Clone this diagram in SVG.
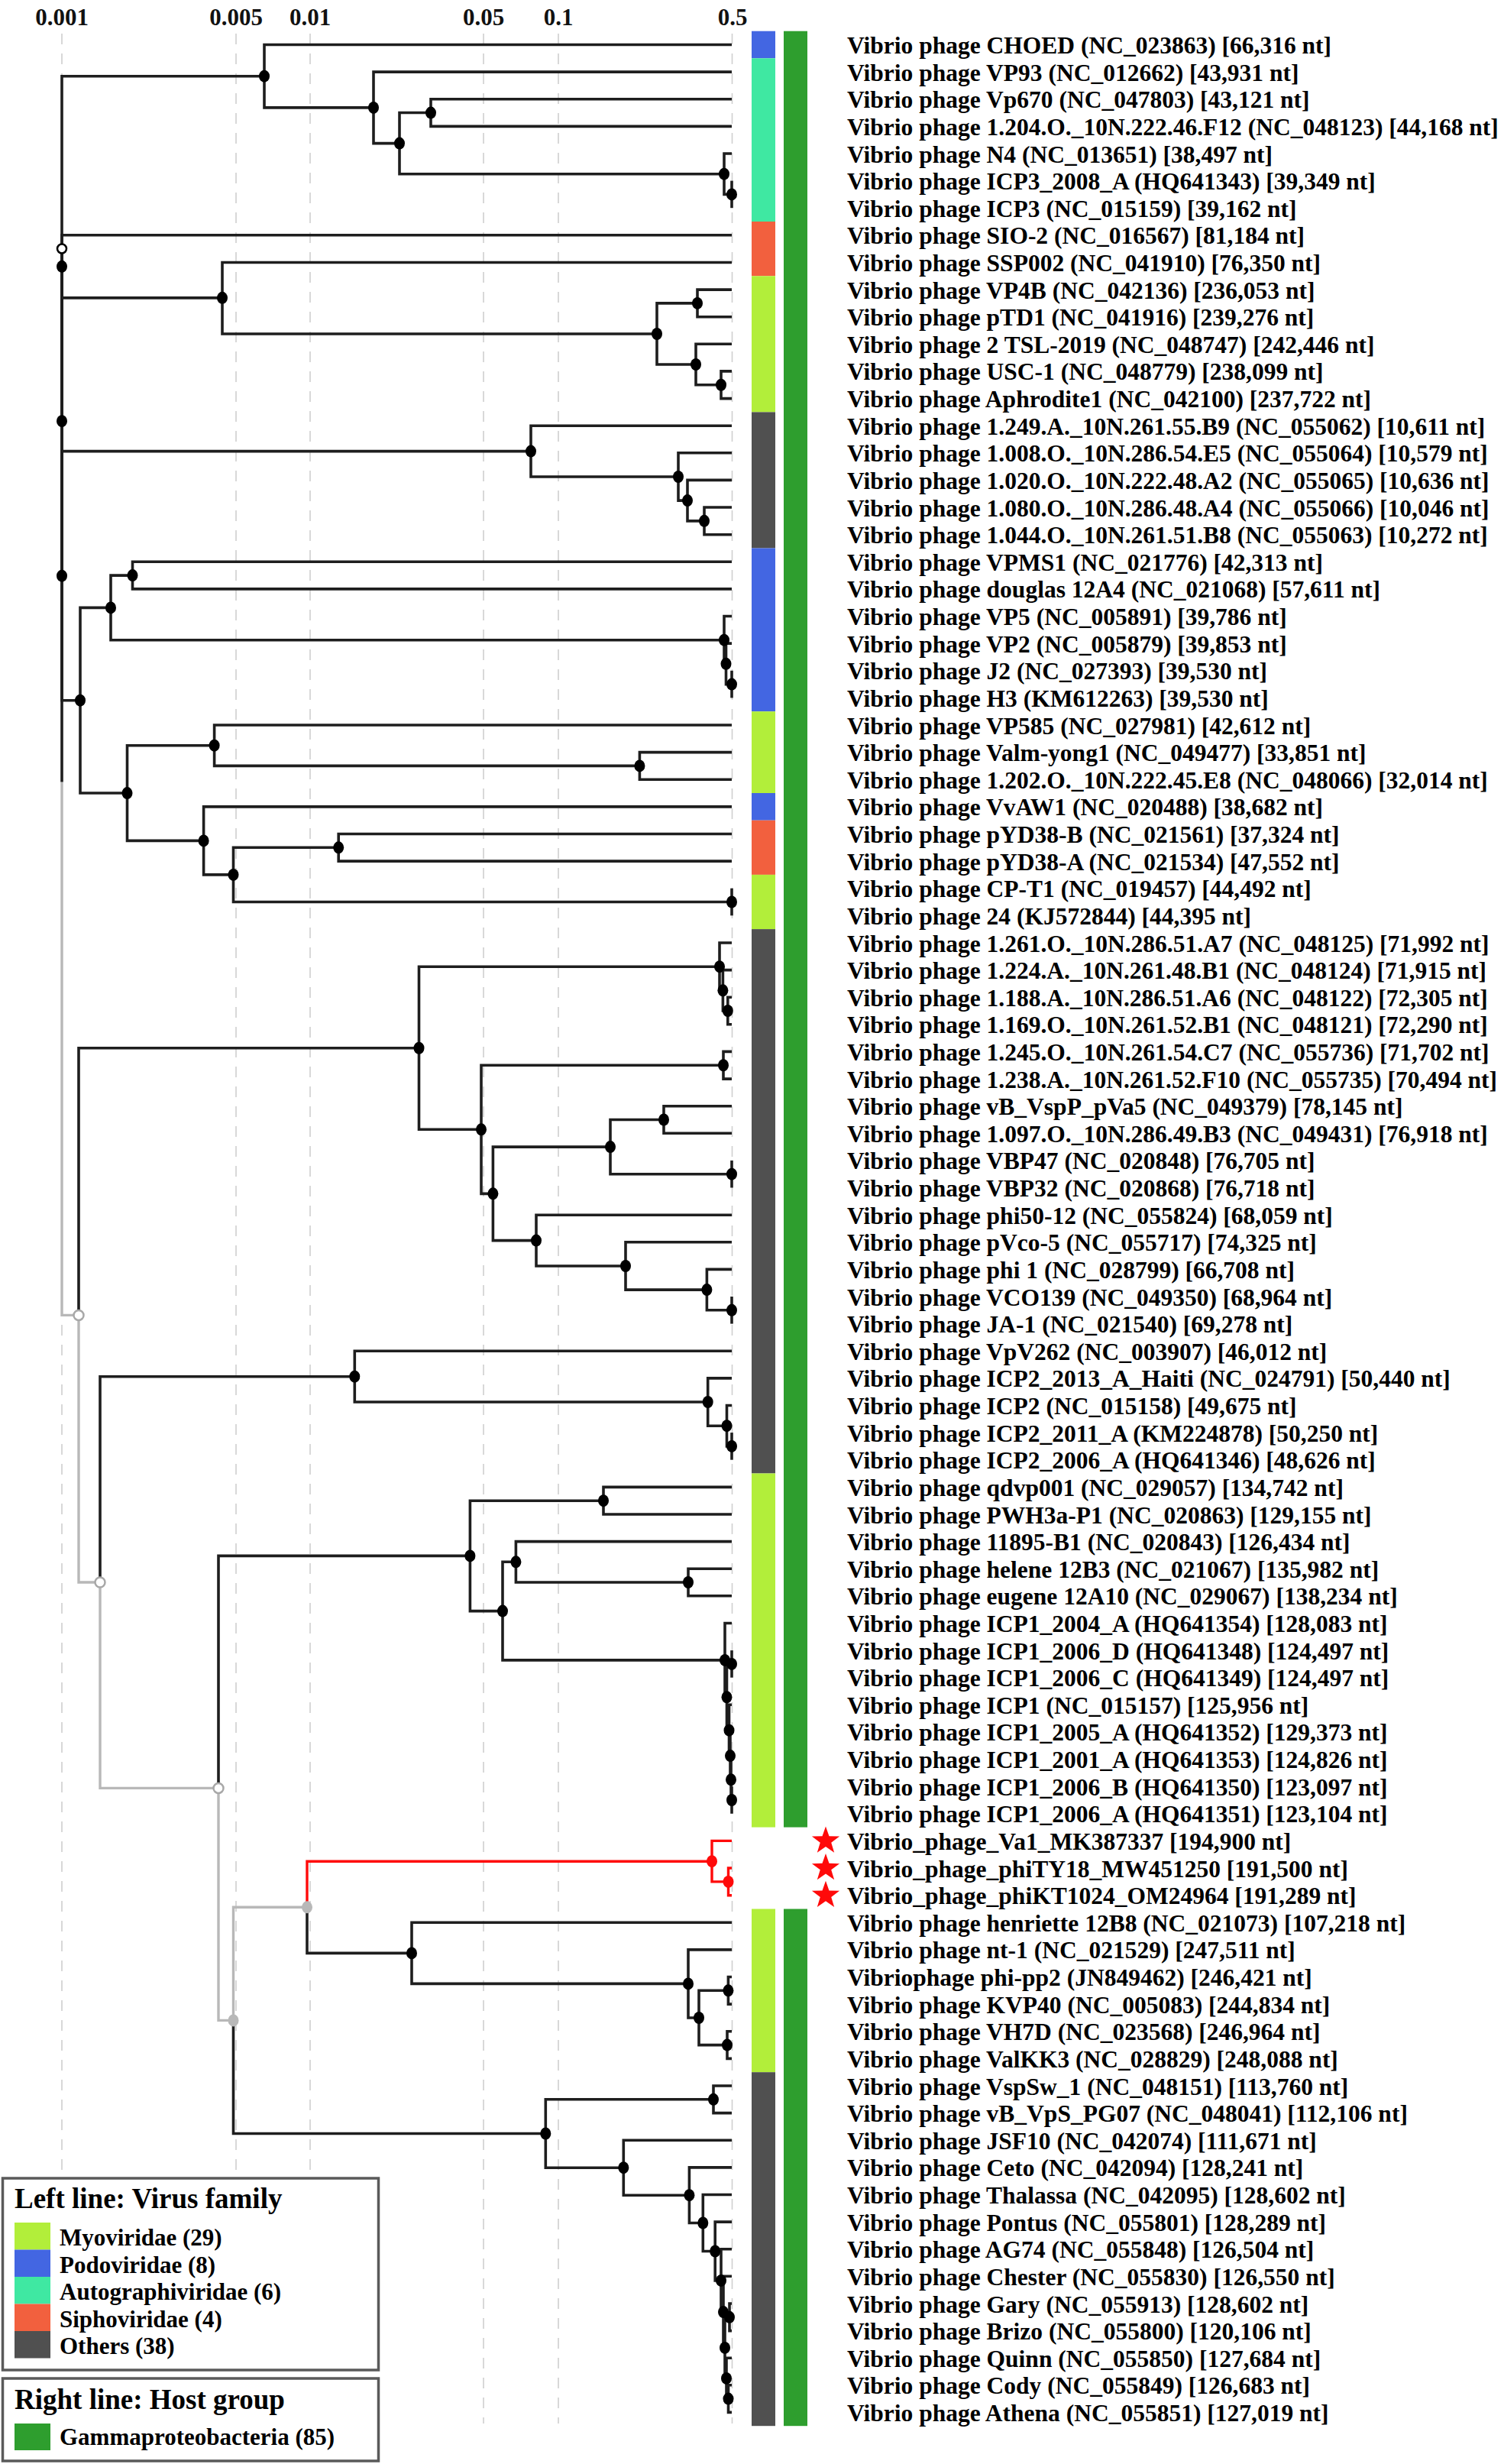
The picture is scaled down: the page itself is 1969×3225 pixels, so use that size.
<svg xmlns="http://www.w3.org/2000/svg" xmlns:xlink="http://www.w3.org/1999/xlink" width="1969" height="3225" viewBox="0 0 1969 3225">
<style>
.grid{stroke:#cfcfcf;stroke-width:1.6;stroke-dasharray:14 12;fill:none}
.ax{font-family:"Liberation Serif","Times New Roman",serif;font-weight:bold;font-size:31px;fill:#111;text-anchor:middle}
.br{fill:none;stroke:#1e1e1e;stroke-width:3.6;stroke-linejoin:miter}
.gr{fill:none;stroke:#b8b8b8;stroke-width:3.4}
.rd{fill:none;stroke:#ff0a0a;stroke-width:3.4}
.dot{fill:#000}
.gdot{fill:#b8b8b8}
.rdot{fill:#ff0a0a}
.odot{fill:#fff;stroke:#000;stroke-width:2.5}
.ogdot{fill:#fff;stroke:#a8a8a8;stroke-width:2.5}
.lbl{font-family:"Liberation Serif","Times New Roman",serif;font-weight:bold;font-size:31.5px;fill:#000}
.lg{font-family:"Liberation Serif","Times New Roman",serif;font-weight:bold;font-size:31px;fill:#000}
.lgt{font-family:"Liberation Serif","Times New Roman",serif;font-weight:bold;font-size:37px;fill:#000}
.myo{fill:#b2ee3a}.pod{fill:#4366e2}.aut{fill:#3fe8a2}.sip{fill:#f2603e}.oth{fill:#505050}.host{fill:#2e9e2e}
</style>
<defs>
<path id="star" d="M0,-19 L4.47,-6.15 L18.07,-5.87 L7.23,2.35 L11.17,15.37 L0,7.6 L-11.17,15.37 L-7.23,2.35 L-18.07,-5.87 L-4.47,-6.15 Z" fill="#ff0a0a"/>
</defs>
<rect width="1969" height="3225" fill="#fff"/>
<g id="axis">
<path class="grid" d="M81,44 V3172 M309,44 V3172 M406,44 V3172 M633,44 V3172 M731,44 V3172 M958.5,44 V3172"/>
<text class="ax" x="81" y="33">0.001</text>
<text class="ax" x="309" y="33">0.005</text>
<text class="ax" x="406" y="33">0.01</text>
<text class="ax" x="633" y="33">0.05</text>
<text class="ax" x="731" y="33">0.1</text>
<text class="ax" x="959" y="33">0.5</text>
</g>
<g id="connectors">
<path class="gr" d="M81,1023.45 V1721.4 H103"/>
<path class="gr" d="M103,1721.4 V2071.05 H131"/>
<path class="gr" d="M131,2071.05 V2340.4 H286"/>
<path class="gr" d="M286,2340.4 V2644.4 H305.5"/>
<path class="gr" d="M305.5,2644.4 V2496.3 H402"/>
<path class="br" d="M81,1023.45 V325.5"/>
<path class="br" d="M346,99.7 H81 V551.2"/>
<path class="br" d="M81,348.8 V753.65"/>
<path class="br" d="M958,307.8 H81 V389.85 H291"/>
<path class="br" d="M695,590.6 H81 V916.7 H105"/>
<path class="br" d="M958,58.5 H346 V140.9 H489"/>
<path class="br" d="M958,94.1 H489 V187.6 H523"/>
<path class="br" d="M564,147.55 H523 V227.7 H948"/>
<path class="br" d="M958,129.7 H564 V165.4 H958"/>
<path class="br" d="M958,201 H948 V254.4 H958"/>
<path class="br" d="M958,236.6 V272.2"/>
<path class="br" d="M958,343.5 H291 V437 H860"/>
<path class="br" d="M913,396.9 H860 V477 H911"/>
<path class="br" d="M958,379.1 H913 V414.7 H958"/>
<path class="br" d="M958,450.3 H911 V503.75 H944"/>
<path class="br" d="M958,485.9 H944 V521.6 H958"/>
<path class="br" d="M958,557.2 H695 V624 H888"/>
<path class="br" d="M958,592.8 H888 V655.1 H900"/>
<path class="br" d="M958,628.4 H900 V681.85 H922"/>
<path class="br" d="M958,664 H922 V699.7 H958"/>
<path class="br" d="M145,795.4 H105 V1038.05 H166.5"/>
<path class="br" d="M173.5,753.1 H145 V837.7 H948"/>
<path class="br" d="M958,735.3 H173.5 V770.9 H958"/>
<path class="br" d="M958,806.5 H948 V868.85 H950.5"/>
<path class="br" d="M958,842.1 H950.5 V895.6 H958"/>
<path class="br" d="M958,877.8 V913.4"/>
<path class="br" d="M280.6,975.7 H166.5 V1100.4 H266.6"/>
<path class="br" d="M958,949 H280.6 V1002.4 H837.4"/>
<path class="br" d="M958,984.6 H837.4 V1020.2 H958"/>
<path class="br" d="M958,1055.9 H266.6 V1144.9 H305.5"/>
<path class="br" d="M443.2,1109.3 H305.5 V1180.5 H958"/>
<path class="br" d="M958,1091.5 H443.2 V1127.1 H958"/>
<path class="br" d="M958,1162.7 V1198.3"/>
<path class="br" d="M103,1721.4 V1371.75 H548.5"/>
<path class="br" d="M942,1265.2 H548.5 V1478.3 H630"/>
<path class="br" d="M958,1234 H942 V1296.3 H946.4"/>
<path class="br" d="M958,1269.6 H946.4 V1323 H952.8"/>
<path class="br" d="M958,1305.2 H952.8 V1340.8 H958"/>
<path class="br" d="M947,1394.25 H630 V1562.35 H645.4"/>
<path class="br" d="M958,1376.4 H947 V1412.1 H958"/>
<path class="br" d="M799,1501.1 H645.4 V1623.6 H702"/>
<path class="br" d="M869,1465.5 H799 V1536.7 H958"/>
<path class="br" d="M958,1447.7 H869 V1483.3 H958"/>
<path class="br" d="M958,1518.9 V1554.5"/>
<path class="br" d="M958,1590.2 H702 V1657 H819"/>
<path class="br" d="M958,1625.8 H819 V1688.1 H925.4"/>
<path class="br" d="M958,1661.4 H925.4 V1714.8 H958"/>
<path class="br" d="M958,1697 V1732.6"/>
<path class="br" d="M131,2071.05 V1801.7 H464.3"/>
<path class="br" d="M958,1768.3 H464.3 V1835 H926.7"/>
<path class="br" d="M958,1803.9 H926.7 V1866.2 H951.5"/>
<path class="br" d="M958,1839.5 H951.5 V1892.9 H958"/>
<path class="br" d="M958,1875.1 V1910.7"/>
<path class="br" d="M286,2340.4 V2036.4 H615.4"/>
<path class="br" d="M790,1964.2 H615.4 V2108.6 H658"/>
<path class="br" d="M958,1946.4 H790 V1982 H958"/>
<path class="br" d="M675.4,2044.3 H658 V2172.9 H949"/>
<path class="br" d="M958,2017.6 H675.4 V2071 H901"/>
<path class="br" d="M958,2053.2 H901 V2088.8 H958"/>
<path class="br" d="M958,2124.5 H949 V2221.3 H951.5"/>
<path class="br" d="M958,2177.9 H951.5 V2264.7 H954.5"/>
<path class="br" d="M958,2160.1 V2195.7"/>
<path class="br" d="M958,2231.3 H954.5 V2298.1 H956"/>
<path class="br" d="M958,2266.9 H956 V2329.3 H957"/>
<path class="br" d="M958,2302.6 H957 V2356 H958"/>
<path class="br" d="M958,2338.2 V2373.8"/>
<path class="br" d="M305.5,2644.4 V2792.5 H714.3"/>
<path class="br" d="M402,2496.3 V2556.4 H539"/>
<path class="rd" d="M402,2496.3 V2436.2 H932"/>
<path class="rd" d="M958,2409.4 H932 V2462.9 H953.5"/>
<path class="rd" d="M958,2445 H953.5 V2480.7 H958"/>
<path class="br" d="M958,2516.3 H539 V2596.4 H901"/>
<path class="br" d="M958,2551.9 H901 V2641 H915"/>
<path class="br" d="M953.4,2605.3 H915 V2676.6 H952"/>
<path class="br" d="M958,2587.5 H953.4 V2623.1 H958"/>
<path class="br" d="M958,2658.8 H952 V2694.4 H958"/>
<path class="br" d="M934,2747.8 H714.3 V2837.2 H816.3"/>
<path class="br" d="M958,2730 H934 V2765.6 H958"/>
<path class="br" d="M958,2801.2 H816.3 V2873.2 H902.4"/>
<path class="br" d="M958,2836.9 H902.4 V2909.5 H920.3"/>
<path class="br" d="M958,2872.5 H920.3 V2946.5 H936.2"/>
<path class="br" d="M958,2908.1 H936.2 V2984.9 H944"/>
<path class="br" d="M958,2943.7 H944 V3026.1 H947"/>
<path class="br" d="M958,2979.3 H947 V3072.9 H949"/>
<path class="br" d="M955,3032.8 H949 V3112.9 H951"/>
<path class="br" d="M958,3015 H955 V3050.6 H958"/>
<path class="br" d="M958,3086.2 H951 V3139.6 H953.5"/>
<path class="br" d="M958,3121.8 H953.5 V3157.4 H958"/>
</g>
<g id="internal-nodes">
<g class="dot">
<ellipse cx="346" cy="99.7" rx="7" ry="8"/><ellipse cx="489" cy="140.9" rx="7" ry="8"/><ellipse cx="523" cy="187.6" rx="7" ry="8"/><ellipse cx="564" cy="147.55" rx="7" ry="8"/><ellipse cx="948" cy="227.7" rx="7" ry="8"/><ellipse cx="958" cy="254.4" rx="7" ry="8"/>
<ellipse cx="81" cy="348.8" rx="7" ry="8"/><ellipse cx="81" cy="551.2" rx="7" ry="8"/><ellipse cx="81" cy="753.65" rx="7" ry="8"/>
<ellipse cx="291" cy="389.85" rx="7" ry="8"/><ellipse cx="860" cy="437" rx="7" ry="8"/><ellipse cx="913" cy="396.9" rx="7" ry="8"/><ellipse cx="911" cy="477" rx="7" ry="8"/><ellipse cx="944" cy="503.75" rx="7" ry="8"/>
<ellipse cx="695" cy="590.6" rx="7" ry="8"/><ellipse cx="888" cy="624" rx="7" ry="8"/><ellipse cx="900" cy="655.1" rx="7" ry="8"/><ellipse cx="922" cy="681.85" rx="7" ry="8"/>
<ellipse cx="105" cy="916.7" rx="7" ry="8"/><ellipse cx="145" cy="795.4" rx="7" ry="8"/><ellipse cx="173.5" cy="753.1" rx="7" ry="8"/><ellipse cx="948" cy="837.7" rx="7" ry="8"/><ellipse cx="950.5" cy="868.85" rx="7" ry="8"/><ellipse cx="958" cy="895.6" rx="7" ry="8"/>
<ellipse cx="166.5" cy="1038.05" rx="7" ry="8"/><ellipse cx="280.6" cy="975.7" rx="7" ry="8"/><ellipse cx="837.4" cy="1002.4" rx="7" ry="8"/><ellipse cx="266.6" cy="1100.4" rx="7" ry="8"/><ellipse cx="305.5" cy="1144.9" rx="7" ry="8"/><ellipse cx="443.2" cy="1109.3" rx="7" ry="8"/><ellipse cx="958" cy="1180.5" rx="7" ry="8"/>
<ellipse cx="548.5" cy="1371.75" rx="7" ry="8"/><ellipse cx="942" cy="1265.2" rx="7" ry="8"/><ellipse cx="946.4" cy="1296.3" rx="7" ry="8"/><ellipse cx="952.8" cy="1323" rx="7" ry="8"/><ellipse cx="630" cy="1478.3" rx="7" ry="8"/><ellipse cx="947" cy="1394.25" rx="7" ry="8"/><ellipse cx="645.4" cy="1562.35" rx="7" ry="8"/><ellipse cx="799" cy="1501.1" rx="7" ry="8"/><ellipse cx="869" cy="1465.5" rx="7" ry="8"/><ellipse cx="958" cy="1536.7" rx="7" ry="8"/><ellipse cx="702" cy="1623.6" rx="7" ry="8"/><ellipse cx="819" cy="1657" rx="7" ry="8"/><ellipse cx="925.4" cy="1688.1" rx="7" ry="8"/><ellipse cx="958" cy="1714.8" rx="7" ry="8"/>
<ellipse cx="464.3" cy="1801.7" rx="7" ry="8"/><ellipse cx="926.7" cy="1835" rx="7" ry="8"/><ellipse cx="951.5" cy="1866.2" rx="7" ry="8"/><ellipse cx="958" cy="1892.9" rx="7" ry="8"/>
<ellipse cx="615.4" cy="2036.4" rx="7" ry="8"/><ellipse cx="790" cy="1964.2" rx="7" ry="8"/><ellipse cx="658" cy="2108.6" rx="7" ry="8"/><ellipse cx="675.4" cy="2044.3" rx="7" ry="8"/><ellipse cx="901" cy="2071" rx="7" ry="8"/><ellipse cx="949" cy="2172.9" rx="7" ry="8"/><ellipse cx="951.5" cy="2221.3" rx="7" ry="8"/><ellipse cx="958" cy="2177.9" rx="7" ry="8"/><ellipse cx="954.5" cy="2264.7" rx="7" ry="8"/><ellipse cx="956" cy="2298.1" rx="7" ry="8"/><ellipse cx="957" cy="2329.3" rx="7" ry="8"/><ellipse cx="958" cy="2356" rx="7" ry="8"/>
<ellipse cx="539" cy="2556.4" rx="7" ry="8"/><ellipse cx="901" cy="2596.4" rx="7" ry="8"/><ellipse cx="915" cy="2641" rx="7" ry="8"/><ellipse cx="953.4" cy="2605.3" rx="7" ry="8"/><ellipse cx="952" cy="2676.6" rx="7" ry="8"/>
<ellipse cx="714.3" cy="2792.5" rx="7" ry="8"/><ellipse cx="934" cy="2747.8" rx="7" ry="8"/><ellipse cx="816.3" cy="2837.2" rx="7" ry="8"/><ellipse cx="902.4" cy="2873.2" rx="7" ry="8"/><ellipse cx="920.3" cy="2909.5" rx="7" ry="8"/><ellipse cx="936.2" cy="2946.5" rx="7" ry="8"/><ellipse cx="944" cy="2984.9" rx="7" ry="8"/><ellipse cx="947" cy="3026.1" rx="7" ry="8"/><ellipse cx="949" cy="3072.9" rx="7" ry="8"/><ellipse cx="955" cy="3032.8" rx="7" ry="8"/><ellipse cx="951" cy="3112.9" rx="7" ry="8"/><ellipse cx="953.5" cy="3139.6" rx="7" ry="8"/>
</g>
<ellipse class="rdot" cx="932" cy="2436.2" rx="7" ry="8"/><ellipse class="rdot" cx="953.5" cy="2462.9" rx="7" ry="8"/>
<ellipse class="gdot" cx="305.5" cy="2644.4" rx="7" ry="8"/><ellipse class="gdot" cx="402" cy="2496.3" rx="7" ry="8"/>
<circle class="odot" cx="81" cy="325.5" r="6"/>
<circle class="ogdot" cx="103" cy="1721.4" r="6.5"/>
<circle class="ogdot" cx="131" cy="2071.05" r="6.5"/>
<circle class="ogdot" cx="286" cy="2340.4" r="6.5"/>
</g>
<g id="family-bar">
<rect class="pod" x="984" y="40.7" width="31" height="35.6"/>
<rect class="aut" x="984" y="76.3" width="31" height="213.7"/>
<rect class="sip" x="984" y="290" width="31" height="71.3"/>
<rect class="myo" x="984" y="361.3" width="31" height="178.1"/>
<rect class="oth" x="984" y="539.4" width="31" height="178.1"/>
<rect class="pod" x="984" y="717.5" width="31" height="213.7"/>
<rect class="myo" x="984" y="931.2" width="31" height="106.8"/>
<rect class="pod" x="984" y="1038" width="31" height="35.7"/>
<rect class="sip" x="984" y="1073.7" width="31" height="71.2"/>
<rect class="myo" x="984" y="1144.9" width="31" height="71.2"/>
<rect class="oth" x="984" y="1216.1" width="31" height="712.4"/>
<rect class="myo" x="984" y="1928.5" width="31" height="463.1"/>
<rect class="myo" x="984" y="2498.5" width="31" height="213.7"/>
<rect class="oth" x="984" y="2712.2" width="31" height="463"/>
</g>
<g id="host-bar">
<rect class="host" x="1026" y="40.7" width="31" height="2350.9"/>
<rect class="host" x="1026" y="2498.5" width="31" height="676.7"/>
</g>
<g id="stars">
<use xlink:href="#star" href="#star" x="1081" y="2409.4"/>
<use xlink:href="#star" href="#star" x="1081" y="2445"/>
<use xlink:href="#star" href="#star" x="1081" y="2480.7"/>
</g>
<g id="leaves" class="lbl">
<g id="leaf-0"><text x="1109" y="70">Vibrio phage CHOED (NC_023863) [66,316 nt]</text></g>
<g id="leaf-1"><text x="1109" y="105.6">Vibrio phage VP93 (NC_012662) [43,931 nt]</text></g>
<g id="leaf-2"><text x="1109" y="141.2">Vibrio phage Vp670 (NC_047803) [43,121 nt]</text></g>
<g id="leaf-3"><text x="1109" y="176.9">Vibrio phage 1.204.O._10N.222.46.F12 (NC_048123) [44,168 nt]</text></g>
<g id="leaf-4"><text x="1109" y="212.5">Vibrio phage N4 (NC_013651) [38,497 nt]</text></g>
<g id="leaf-5"><text x="1109" y="248.1">Vibrio phage ICP3_2008_A (HQ641343) [39,349 nt]</text></g>
<g id="leaf-6"><text x="1109" y="283.7">Vibrio phage ICP3 (NC_015159) [39,162 nt]</text></g>
<g id="leaf-7"><text x="1109" y="319.3">Vibrio phage SIO-2 (NC_016567) [81,184 nt]</text></g>
<g id="leaf-8"><text x="1109" y="355">Vibrio phage SSP002 (NC_041910) [76,350 nt]</text></g>
<g id="leaf-9"><text x="1109" y="390.6">Vibrio phage VP4B (NC_042136) [236,053 nt]</text></g>
<g id="leaf-10"><text x="1109" y="426.2">Vibrio phage pTD1 (NC_041916) [239,276 nt]</text></g>
<g id="leaf-11"><text x="1109" y="461.8">Vibrio phage 2 TSL-2019 (NC_048747) [242,446 nt]</text></g>
<g id="leaf-12"><text x="1109" y="497.4">Vibrio phage USC-1 (NC_048779) [238,099 nt]</text></g>
<g id="leaf-13"><text x="1109" y="533.1">Vibrio phage Aphrodite1 (NC_042100) [237,722 nt]</text></g>
<g id="leaf-14"><text x="1109" y="568.7">Vibrio phage 1.249.A._10N.261.55.B9 (NC_055062) [10,611 nt]</text></g>
<g id="leaf-15"><text x="1109" y="604.3">Vibrio phage 1.008.O._10N.286.54.E5 (NC_055064) [10,579 nt]</text></g>
<g id="leaf-16"><text x="1109" y="639.9">Vibrio phage 1.020.O._10N.222.48.A2 (NC_055065) [10,636 nt]</text></g>
<g id="leaf-17"><text x="1109" y="675.5">Vibrio phage 1.080.O._10N.286.48.A4 (NC_055066) [10,046 nt]</text></g>
<g id="leaf-18"><text x="1109" y="711.2">Vibrio phage 1.044.O._10N.261.51.B8 (NC_055063) [10,272 nt]</text></g>
<g id="leaf-19"><text x="1109" y="746.8">Vibrio phage VPMS1 (NC_021776) [42,313 nt]</text></g>
<g id="leaf-20"><text x="1109" y="782.4">Vibrio phage douglas 12A4 (NC_021068) [57,611 nt]</text></g>
<g id="leaf-21"><text x="1109" y="818">Vibrio phage VP5 (NC_005891) [39,786 nt]</text></g>
<g id="leaf-22"><text x="1109" y="853.6">Vibrio phage VP2 (NC_005879) [39,853 nt]</text></g>
<g id="leaf-23"><text x="1109" y="889.3">Vibrio phage J2 (NC_027393) [39,530 nt]</text></g>
<g id="leaf-24"><text x="1109" y="924.9">Vibrio phage H3 (KM612263) [39,530 nt]</text></g>
<g id="leaf-25"><text x="1109" y="960.5">Vibrio phage VP585 (NC_027981) [42,612 nt]</text></g>
<g id="leaf-26"><text x="1109" y="996.1">Vibrio phage Valm-yong1 (NC_049477) [33,851 nt]</text></g>
<g id="leaf-27"><text x="1109" y="1031.7">Vibrio phage 1.202.O._10N.222.45.E8 (NC_048066) [32,014 nt]</text></g>
<g id="leaf-28"><text x="1109" y="1067.4">Vibrio phage VvAW1 (NC_020488) [38,682 nt]</text></g>
<g id="leaf-29"><text x="1109" y="1103">Vibrio phage pYD38-B (NC_021561) [37,324 nt]</text></g>
<g id="leaf-30"><text x="1109" y="1138.6">Vibrio phage pYD38-A (NC_021534) [47,552 nt]</text></g>
<g id="leaf-31"><text x="1109" y="1174.2">Vibrio phage CP-T1 (NC_019457) [44,492 nt]</text></g>
<g id="leaf-32"><text x="1109" y="1209.8">Vibrio phage 24 (KJ572844) [44,395 nt]</text></g>
<g id="leaf-33"><text x="1109" y="1245.5">Vibrio phage 1.261.O._10N.286.51.A7 (NC_048125) [71,992 nt]</text></g>
<g id="leaf-34"><text x="1109" y="1281.1">Vibrio phage 1.224.A._10N.261.48.B1 (NC_048124) [71,915 nt]</text></g>
<g id="leaf-35"><text x="1109" y="1316.7">Vibrio phage 1.188.A._10N.286.51.A6 (NC_048122) [72,305 nt]</text></g>
<g id="leaf-36"><text x="1109" y="1352.3">Vibrio phage 1.169.O._10N.261.52.B1 (NC_048121) [72,290 nt]</text></g>
<g id="leaf-37"><text x="1109" y="1387.9">Vibrio phage 1.245.O._10N.261.54.C7 (NC_055736) [71,702 nt]</text></g>
<g id="leaf-38"><text x="1109" y="1423.6">Vibrio phage 1.238.A._10N.261.52.F10 (NC_055735) [70,494 nt]</text></g>
<g id="leaf-39"><text x="1109" y="1459.2">Vibrio phage vB_VspP_pVa5 (NC_049379) [78,145 nt]</text></g>
<g id="leaf-40"><text x="1109" y="1494.8">Vibrio phage 1.097.O._10N.286.49.B3 (NC_049431) [76,918 nt]</text></g>
<g id="leaf-41"><text x="1109" y="1530.4">Vibrio phage VBP47 (NC_020848) [76,705 nt]</text></g>
<g id="leaf-42"><text x="1109" y="1566">Vibrio phage VBP32 (NC_020868) [76,718 nt]</text></g>
<g id="leaf-43"><text x="1109" y="1601.7">Vibrio phage phi50-12 (NC_055824) [68,059 nt]</text></g>
<g id="leaf-44"><text x="1109" y="1637.3">Vibrio phage pVco-5 (NC_055717) [74,325 nt]</text></g>
<g id="leaf-45"><text x="1109" y="1672.9">Vibrio phage phi 1 (NC_028799) [66,708 nt]</text></g>
<g id="leaf-46"><text x="1109" y="1708.5">Vibrio phage VCO139 (NC_049350) [68,964 nt]</text></g>
<g id="leaf-47"><text x="1109" y="1744.1">Vibrio phage JA-1 (NC_021540) [69,278 nt]</text></g>
<g id="leaf-48"><text x="1109" y="1779.8">Vibrio phage VpV262 (NC_003907) [46,012 nt]</text></g>
<g id="leaf-49"><text x="1109" y="1815.4">Vibrio phage ICP2_2013_A_Haiti (NC_024791) [50,440 nt]</text></g>
<g id="leaf-50"><text x="1109" y="1851">Vibrio phage ICP2 (NC_015158) [49,675 nt]</text></g>
<g id="leaf-51"><text x="1109" y="1886.6">Vibrio phage ICP2_2011_A (KM224878) [50,250 nt]</text></g>
<g id="leaf-52"><text x="1109" y="1922.2">Vibrio phage ICP2_2006_A (HQ641346) [48,626 nt]</text></g>
<g id="leaf-53"><text x="1109" y="1957.9">Vibrio phage qdvp001 (NC_029057) [134,742 nt]</text></g>
<g id="leaf-54"><text x="1109" y="1993.5">Vibrio phage PWH3a-P1 (NC_020863) [129,155 nt]</text></g>
<g id="leaf-55"><text x="1109" y="2029.1">Vibrio phage 11895-B1 (NC_020843) [126,434 nt]</text></g>
<g id="leaf-56"><text x="1109" y="2064.7">Vibrio phage helene 12B3 (NC_021067) [135,982 nt]</text></g>
<g id="leaf-57"><text x="1109" y="2100.3">Vibrio phage eugene 12A10 (NC_029067) [138,234 nt]</text></g>
<g id="leaf-58"><text x="1109" y="2136">Vibrio phage ICP1_2004_A (HQ641354) [128,083 nt]</text></g>
<g id="leaf-59"><text x="1109" y="2171.6">Vibrio phage ICP1_2006_D (HQ641348) [124,497 nt]</text></g>
<g id="leaf-60"><text x="1109" y="2207.2">Vibrio phage ICP1_2006_C (HQ641349) [124,497 nt]</text></g>
<g id="leaf-61"><text x="1109" y="2242.8">Vibrio phage ICP1 (NC_015157) [125,956 nt]</text></g>
<g id="leaf-62"><text x="1109" y="2278.4">Vibrio phage ICP1_2005_A (HQ641352) [129,373 nt]</text></g>
<g id="leaf-63"><text x="1109" y="2314.1">Vibrio phage ICP1_2001_A (HQ641353) [124,826 nt]</text></g>
<g id="leaf-64"><text x="1109" y="2349.7">Vibrio phage ICP1_2006_B (HQ641350) [123,097 nt]</text></g>
<g id="leaf-65"><text x="1109" y="2385.3">Vibrio phage ICP1_2006_A (HQ641351) [123,104 nt]</text></g>
<g id="leaf-66"><text x="1109" y="2420.9">Vibrio_phage_Va1_MK387337 [194,900 nt]</text></g>
<g id="leaf-67"><text x="1109" y="2456.5">Vibrio_phage_phiTY18_MW451250 [191,500 nt]</text></g>
<g id="leaf-68"><text x="1109" y="2492.2">Vibrio_phage_phiKT1024_OM24964 [191,289 nt]</text></g>
<g id="leaf-69"><text x="1109" y="2527.8">Vibrio phage henriette 12B8 (NC_021073) [107,218 nt]</text></g>
<g id="leaf-70"><text x="1109" y="2563.4">Vibrio phage nt-1 (NC_021529) [247,511 nt]</text></g>
<g id="leaf-71"><text x="1109" y="2599">Vibriophage phi-pp2 (JN849462) [246,421 nt]</text></g>
<g id="leaf-72"><text x="1109" y="2634.6">Vibrio phage KVP40 (NC_005083) [244,834 nt]</text></g>
<g id="leaf-73"><text x="1109" y="2670.3">Vibrio phage VH7D (NC_023568) [246,964 nt]</text></g>
<g id="leaf-74"><text x="1109" y="2705.9">Vibrio phage ValKK3 (NC_028829) [248,088 nt]</text></g>
<g id="leaf-75"><text x="1109" y="2741.5">Vibrio phage VspSw_1 (NC_048151) [113,760 nt]</text></g>
<g id="leaf-76"><text x="1109" y="2777.1">Vibrio phage vB_VpS_PG07 (NC_048041) [112,106 nt]</text></g>
<g id="leaf-77"><text x="1109" y="2812.7">Vibrio phage JSF10 (NC_042074) [111,671 nt]</text></g>
<g id="leaf-78"><text x="1109" y="2848.4">Vibrio phage Ceto (NC_042094) [128,241 nt]</text></g>
<g id="leaf-79"><text x="1109" y="2884">Vibrio phage Thalassa (NC_042095) [128,602 nt]</text></g>
<g id="leaf-80"><text x="1109" y="2919.6">Vibrio phage Pontus (NC_055801) [128,289 nt]</text></g>
<g id="leaf-81"><text x="1109" y="2955.2">Vibrio phage AG74 (NC_055848) [126,504 nt]</text></g>
<g id="leaf-82"><text x="1109" y="2990.8">Vibrio phage Chester (NC_055830) [126,550 nt]</text></g>
<g id="leaf-83"><text x="1109" y="3026.5">Vibrio phage Gary (NC_055913) [128,602 nt]</text></g>
<g id="leaf-84"><text x="1109" y="3062.1">Vibrio phage Brizo (NC_055800) [120,106 nt]</text></g>
<g id="leaf-85"><text x="1109" y="3097.7">Vibrio phage Quinn (NC_055850) [127,684 nt]</text></g>
<g id="leaf-86"><text x="1109" y="3133.3">Vibrio phage Cody (NC_055849) [126,683 nt]</text></g>
<g id="leaf-87"><text x="1109" y="3168.9">Vibrio phage Athena (NC_055851) [127,019 nt]</text></g>
</g>
<g id="legend-family">
<rect x="3.5" y="2851" width="492" height="251" fill="#fff" stroke="#5a5a5a" stroke-width="3.5"/>
<text class="lgt" x="19" y="2890">Left line: Virus family</text>
<rect class="myo" x="19" y="2909" width="47" height="35.5"/>
<rect class="pod" x="19" y="2944.5" width="47" height="35.5"/>
<rect class="aut" x="19" y="2980" width="47" height="35.5"/>
<rect class="sip" x="19" y="3015.5" width="47" height="35.5"/>
<rect class="oth" x="19" y="3051" width="47" height="35.5"/>
<text class="lg" x="78" y="2939">Myoviridae (29)</text>
<text class="lg" x="78" y="2974.5">Podoviridae (8)</text>
<text class="lg" x="78" y="3010">Autographiviridae (6)</text>
<text class="lg" x="78" y="3045.5">Siphoviridae (4)</text>
<text class="lg" x="78" y="3081">Others (38)</text>
</g>
<g id="legend-host">
<rect x="3.5" y="3113" width="492" height="108" fill="#fff" stroke="#5a5a5a" stroke-width="3.5"/>
<text class="lgt" x="19" y="3153">Right line: Host group</text>
<rect class="host" x="19" y="3172" width="47" height="35"/>
<text class="lg" x="78" y="3200">Gammaproteobacteria (85)</text>
</g>
</svg>
